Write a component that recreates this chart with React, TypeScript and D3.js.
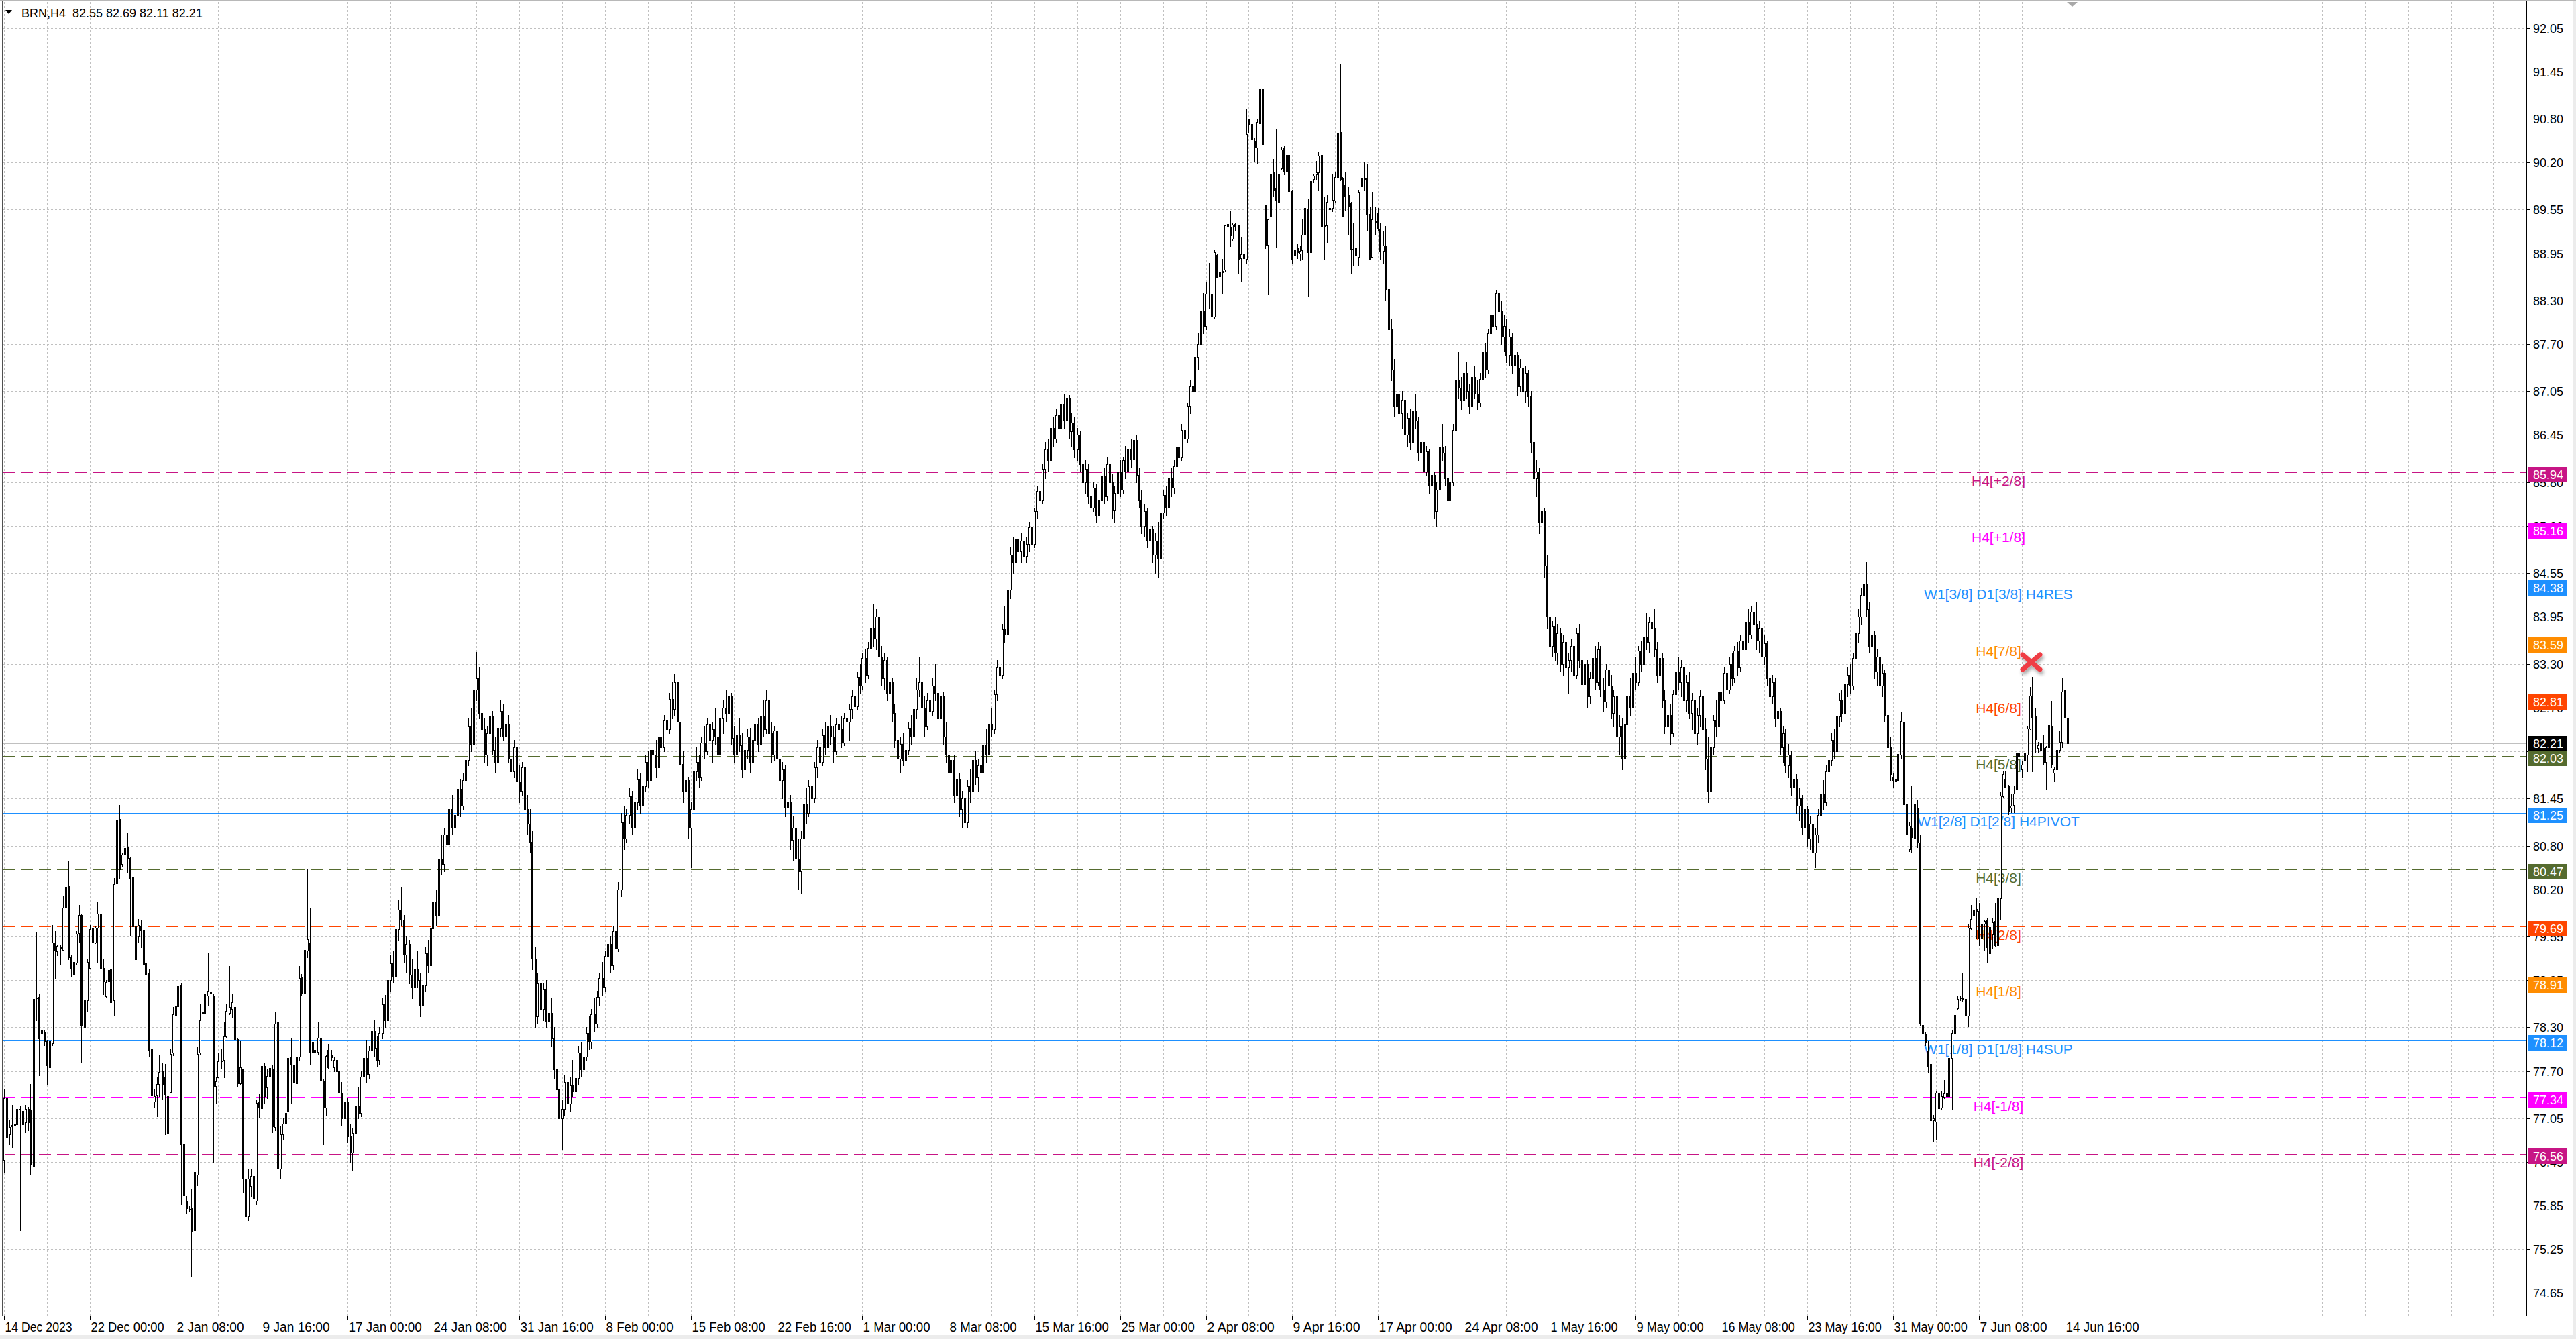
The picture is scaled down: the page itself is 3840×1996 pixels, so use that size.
import React from 'react';
import * as d3 from 'd3';

type Bar = [number, number, number, number]; // open, high, low, close

const headerText = 'BRN,H4  82.55 82.69 82.11 82.21';

const priceTicks = ['92.05','91.45','90.80','90.20','89.55','88.95','88.30','87.70','87.05','86.45','85.80','85.20','84.55','83.95','83.30','82.70','82.10','81.45','80.80','80.20','79.55','78.95','78.30','77.70','77.05','76.45','75.85','75.25','74.65'];

const dateLabels = ['14 Dec 2023','22 Dec 00:00','2 Jan 08:00','9 Jan 16:00','17 Jan 00:00','24 Jan 08:00','31 Jan 16:00','8 Feb 00:00','15 Feb 08:00','22 Feb 16:00','1 Mar 00:00','8 Mar 08:00','15 Mar 16:00','25 Mar 00:00','2 Apr 08:00','9 Apr 16:00','17 Apr 00:00','24 Apr 08:00','1 May 16:00','9 May 00:00','16 May 08:00','23 May 16:00','31 May 00:00','7 Jun 08:00','14 Jun 16:00'];
const barsPerLabel = 32;
const barsPerGrid = 16;

const levelPrices = [85.94, 85.16, 84.38, 83.59, 82.81, 82.03, 81.25, 80.47, 79.69, 78.91, 78.12, 77.34, 76.56];
const levelNames = ['H4[+2/8]','H4[+1/8]','W1[3/8] D1[3/8] H4RES','H4[7/8]','H4[6/8]','H4[5/8]','W1[2/8] D1[2/8] H4PIVOT','H4[3/8]','H4[2/8]','H4[1/8]','W1[1/8] D1[1/8] H4SUP','H4[-1/8]','H4[-2/8]'];
const levelColors = ['#C71585','#FF00FF','#1E90FF','#FF8C00','#FF4500','#556B2F','#1E90FF','#556B2F','#FF4500','#FF8C00','#1E90FF','#FF00FF','#C71585'];
const levelSolid = [false,false,true,false,false,false,true,false,false,false,true,false,false];

const lastPrice = 82.21;
const totalBars = 770;

// Bars 0..123 (mid Dec - mid Jan)
const seg0Start = 0;
const seg0: Bar[] = [
[76.48,77.45,76.30,77.33],[77.33,77.40,76.60,76.79],[76.83,77.02,76.69,76.93],[76.94,77.23,76.64,76.96],[76.97,77.02,76.64,76.96],
[76.97,77.40,76.69,77.18],[77.17,77.22,75.51,77.18],[77.15,77.26,76.64,76.97],[76.99,77.23,76.86,77.18],[77.18,77.21,76.88,76.99],
[77.16,77.52,76.27,76.41],[76.39,78.77,75.96,78.69],[78.70,79.61,78.40,78.71],[78.72,78.77,77.64,78.15],[78.21,78.30,78.15,78.26],
[78.24,78.27,78.06,78.11],[78.11,78.13,77.52,77.78],[77.75,78.15,77.73,78.11],[78.08,79.71,78.06,79.47],[79.46,79.62,78.98,79.37],
[79.35,79.43,79.29,79.42],[79.41,79.43,79.17,79.38],[79.37,80.11,79.36,79.95],[79.96,80.33,79.76,80.23],[80.24,80.58,79.24,79.26],
[79.26,79.29,79.00,79.11],[79.02,79.24,78.97,79.20],[79.19,79.62,79.17,79.59],[79.60,79.98,79.48,79.85],[79.85,79.86,77.82,78.32],
[78.30,79.34,78.11,78.67],[78.67,79.24,78.53,79.20],[79.12,79.71,79.11,79.65],[79.66,79.95,79.44,79.47],[79.47,79.69,79.46,79.67],
[79.67,80.02,79.19,79.86],[79.86,80.08,78.62,79.12],[79.12,79.24,78.76,78.93],[78.73,78.95,78.72,78.92],[78.93,79.13,78.77,79.09],
[79.10,79.13,78.37,78.65],[78.67,80.35,78.47,80.27],[80.28,81.42,80.24,81.16],[81.17,81.36,80.35,80.47],[80.55,80.70,80.51,80.68],
[80.68,80.79,80.63,80.77],[80.79,80.97,80.43,80.62],[80.63,80.65,79.56,80.35],[80.36,80.70,79.67,79.69],[79.69,79.71,79.20,79.24],
[79.55,79.79,79.47,79.71],[79.70,79.78,79.40,79.63],[79.63,79.79,78.78,79.17],[79.18,79.19,78.19,79.03],[79.05,79.10,77.91,77.99],
[78.00,78.01,77.07,77.36],[77.28,77.45,77.21,77.35],[77.36,77.62,77.08,77.52],[77.52,77.93,77.35,77.69],[77.70,77.82,77.31,77.52],
[77.62,77.80,76.83,77.38],[77.35,77.37,76.72,76.84],[77.41,78.01,77.40,77.94],[77.95,78.58,77.92,78.48],[78.47,78.63,78.32,78.59],
[78.59,79.00,78.32,78.87],[78.88,78.91,75.87,76.69],[76.69,76.74,75.60,75.99],[75.91,75.98,75.75,75.81],[75.80,75.84,75.77,75.79],
[75.81,76.08,74.88,75.50],[75.51,76.86,75.37,76.31],[76.27,78.03,76.13,77.94],[77.95,78.62,77.94,78.40],[78.50,78.58,78.22,78.52],
[78.50,78.91,78.29,78.76],[78.74,79.33,78.60,78.80],[78.77,79.07,78.20,78.78],[78.74,78.77,76.45,77.49],[77.49,77.61,77.26,77.56],
[77.61,77.95,77.61,77.83],[77.83,78.01,77.73,77.84],[77.85,78.38,77.61,78.18],[78.18,78.62,78.17,78.53],[78.50,79.14,78.48,78.58],
[78.55,78.77,78.44,78.65],[78.58,78.60,78.11,78.13],[78.14,78.15,77.49,77.53],[77.53,78.11,77.52,77.75],[77.72,77.73,76.03,76.23],
[76.22,76.24,75.20,75.70],[75.70,76.36,75.65,76.22],[76.12,76.36,75.98,76.26],[76.26,76.38,75.84,75.94],[75.91,77.30,75.87,77.26],
[77.28,77.38,77.07,77.20],[77.19,78.02,76.61,77.77],[77.77,77.82,77.26,77.35],[77.47,77.73,77.33,77.63],[77.63,77.80,77.40,77.74],
[77.72,77.78,76.86,76.94],[76.93,78.51,76.88,78.35],[78.37,78.39,76.27,76.36],[76.36,76.95,76.22,76.83],[76.83,77.05,76.75,76.98],
[76.98,77.25,76.69,77.12],[77.14,77.93,76.60,77.88],[77.89,78.15,77.26,77.80],[77.78,78.85,77.54,77.54],[77.53,77.94,77.01,77.89],
[77.90,79.14,77.85,78.98],[78.99,79.03,78.74,78.77],[78.77,79.40,78.62,79.37],[79.36,80.47,79.26,79.51],[79.46,79.95,77.80,77.96],
[77.96,78.20,77.95,78.10],[77.99,78.18,77.68,77.96],[77.96,78.37,77.94,78.16],[78.16,78.39,77.54,77.57],[77.57,77.59,76.69,77.21],
[77.20,77.93,77.09,77.91],[77.99,78.07,77.74,77.75],[77.92,77.99,77.85,77.89],[77.75,77.90,77.70,77.85]
];

// Bars 124..262 (mid Jan - mid Feb)
const seg1Start = 124;
const seg1: Bar[] = [
[77.85,77.98,77.62,77.70],[77.70,77.82,77.31,77.40],[77.40,77.55,76.95,77.05],[77.05,77.36,76.88,77.28],[77.28,77.33,76.72,76.80],
[76.80,76.98,76.45,76.58],[76.58,76.92,76.34,76.85],[76.85,77.30,76.78,77.22],[77.22,77.48,77.05,77.12],[77.12,77.70,77.08,77.62],
[77.62,77.95,77.45,77.88],[77.88,78.12,77.55,77.66],[77.66,78.05,77.60,77.98],[77.98,78.35,77.85,78.25],[78.25,78.40,77.90,78.02],
[78.02,78.18,77.76,77.85],[77.85,78.30,77.80,78.22],[78.22,78.70,78.15,78.62],[78.62,78.75,78.30,78.40],[78.40,79.05,78.35,78.95],
[78.95,79.30,78.80,79.18],[79.18,79.35,78.92,79.00],[79.00,79.72,78.95,79.65],[79.65,80.05,79.50,79.92],[79.92,80.23,79.70,79.78],
[79.78,79.85,79.20,79.30],[79.30,79.55,79.05,79.45],[79.45,79.50,78.90,79.02],[79.02,79.25,78.70,78.85],[78.85,79.20,78.75,79.10],
[79.10,79.35,78.85,78.95],[78.95,79.05,78.45,78.60],[78.60,78.95,78.50,78.88],[78.88,79.40,78.80,79.32],[79.32,79.50,79.05,79.15],
[79.15,79.75,79.10,79.66],[79.66,80.10,79.55,80.02],[80.02,80.20,79.70,79.85],[79.85,80.75,79.80,80.62],[80.62,80.95,80.40,80.55],
[80.55,81.05,80.45,80.95],[80.95,81.25,80.70,80.82],[80.82,81.40,80.75,81.30],[81.30,81.50,80.95,81.05],[81.05,81.35,80.85,81.22],
[81.22,81.65,81.15,81.58],[81.58,81.72,81.20,81.35],[81.35,81.80,81.30,81.70],[81.70,82.10,81.55,81.98],[81.98,82.55,81.90,82.45],
[82.45,82.70,82.10,82.20],[82.20,83.05,82.15,82.95],[82.95,83.46,82.80,83.10],[83.10,83.25,82.55,82.62],[82.62,82.80,82.30,82.40],
[82.40,82.55,81.95,82.05],[82.05,82.45,81.90,82.35],[82.35,82.70,82.20,82.58],[82.58,82.65,82.05,82.12],[82.12,82.30,81.80,81.95],
[81.95,82.50,81.88,82.42],[82.42,82.80,82.30,82.65],[82.65,82.75,82.25,82.30],[82.30,82.55,82.10,82.48],[82.48,82.60,81.95,82.00],
[82.00,82.20,81.70,81.82],[81.82,82.25,81.75,82.15],[82.15,82.30,81.60,81.68],[81.68,81.90,81.40,81.55],[81.55,81.95,81.50,81.88],
[81.88,81.95,81.20,81.30],[81.30,81.50,80.95,81.10],[81.10,81.30,80.70,80.85],[80.85,81.00,79.10,79.25],[79.25,79.40,78.30,78.45],
[78.45,79.05,78.35,78.90],[78.90,79.10,78.40,78.55],[78.55,78.90,78.40,78.82],[78.82,78.95,78.30,78.38],[78.38,78.62,78.10,78.50],
[78.50,78.70,78.05,78.15],[78.15,78.30,77.60,77.72],[77.72,77.95,77.35,77.45],[77.45,77.60,76.90,77.05],[77.05,77.30,76.62,77.18],
[77.18,77.65,77.10,77.55],[77.55,77.70,77.10,77.25],[77.25,77.62,77.15,77.50],[77.50,77.85,77.35,77.42],[77.42,77.70,77.05,77.60],
[77.60,78.05,77.52,77.95],[77.95,78.10,77.62,77.72],[77.72,78.00,77.55,77.90],[77.90,78.30,77.85,78.22],[78.22,78.45,78.00,78.10],
[78.10,78.55,78.02,78.48],[78.48,78.70,78.25,78.35],[78.35,78.80,78.30,78.72],[78.72,79.05,78.60,78.98],[78.98,79.20,78.75,78.85],
[78.85,79.35,78.80,79.28],[79.28,79.60,79.10,79.45],[79.45,79.55,79.05,79.15],[79.15,79.70,79.10,79.62],[79.62,79.75,79.30,79.38],
[79.38,80.30,79.35,80.20],[80.20,81.25,80.10,81.12],[81.12,81.35,80.75,80.90],[80.90,81.30,80.85,81.22],[81.22,81.60,81.10,81.48],
[81.48,81.55,80.95,81.05],[81.05,81.50,81.00,81.40],[81.40,81.85,81.30,81.72],[81.72,81.80,81.25,81.35],[81.35,81.70,81.20,81.62],
[81.62,82.05,81.55,81.95],[81.95,82.10,81.60,81.70],[81.70,82.20,81.65,82.12],[82.12,82.35,81.90,82.05],[82.05,82.25,81.75,81.88],
[81.88,82.40,81.80,82.30],[82.30,82.45,82.05,82.15],[82.15,82.60,82.10,82.52],[82.52,82.75,82.30,82.40],[82.40,82.90,82.35,82.82],
[82.82,83.05,82.55,82.68],[82.68,83.17,82.60,83.05],[83.05,83.12,82.45,82.50],[82.50,82.65,81.80,81.92],[81.92,82.10,81.40,81.55],
[81.55,81.80,81.20,81.70],[81.70,81.75,80.90,81.05],[81.05,81.40,80.50,81.30],[81.30,81.90,81.25,81.82],[81.82,82.15,81.70,81.95],
[81.95,82.05,81.60,81.75],[81.75,82.30,81.70,82.22],[82.22,82.45,82.00,82.10],[82.10,82.55,82.05,82.48]
];

// Bars 263..447 (mid Feb - early Apr)
const seg2Start = 263;
const seg2: Bar[] = [
[82.48,82.60,82.15,82.25],[82.25,82.50,81.95,82.40],[82.40,82.70,82.20,82.30],[82.30,82.45,81.90,82.05],[82.05,82.60,82.00,82.55],
[82.55,82.80,82.35,82.70],[82.70,82.95,82.50,82.62],[82.62,82.92,82.40,82.85],[82.85,82.90,82.20,82.28],[82.28,82.45,81.95,82.05],
[82.05,82.40,81.90,82.32],[82.32,82.55,82.10,82.18],[82.18,82.35,81.75,81.85],[81.85,82.20,81.70,82.12],[82.12,82.40,82.00,82.30],
[82.30,82.42,81.80,81.95],[81.95,82.30,81.85,82.25],[82.25,82.60,82.15,82.48],[82.48,82.55,82.10,82.20],[82.20,82.65,82.12,82.58],
[82.58,82.80,82.30,82.40],[82.40,82.95,82.35,82.80],[82.80,82.88,82.25,82.35],[82.35,82.50,81.95,82.05],[82.05,82.45,81.98,82.38],
[82.38,82.52,81.90,82.00],[82.00,82.15,81.55,81.70],[81.70,81.95,81.45,81.85],[81.85,81.90,81.20,81.32],[81.32,81.55,80.95,81.40],
[81.40,81.50,80.75,80.88],[80.88,81.20,80.60,81.05],[81.05,81.15,80.50,80.62],[80.62,80.90,80.20,80.45],[80.45,81.00,80.15,80.90],
[80.90,81.45,80.85,81.38],[81.38,81.60,81.10,81.25],[81.25,81.70,81.20,81.62],[81.62,81.75,81.30,81.45],[81.45,81.95,81.40,81.88],
[81.88,82.25,81.75,82.15],[82.15,82.30,81.85,81.95],[81.95,82.40,81.90,82.32],[82.32,82.50,82.05,82.15],[82.15,82.55,82.10,82.45],
[82.45,82.60,82.20,82.30],[82.30,82.45,81.95,82.10],[82.10,82.55,82.05,82.48],[82.48,82.70,82.30,82.40],[82.40,82.58,82.15,82.22],
[82.22,82.62,82.18,82.55],[82.55,82.80,82.40,82.50],[82.50,82.75,82.25,82.68],[82.68,82.95,82.55,82.85],[82.85,83.10,82.60,82.72],
[82.72,83.20,82.68,83.12],[83.12,83.30,82.90,83.00],[83.00,83.45,82.95,83.38],[83.38,83.50,83.05,83.15],[83.15,83.60,83.10,83.52],
[83.52,83.90,83.40,83.80],[83.80,84.12,83.55,83.65],[83.65,84.05,83.50,83.95],[83.95,84.00,83.30,83.40],[83.40,83.55,83.00,83.10],
[83.10,83.45,82.95,83.35],[83.35,83.40,82.80,82.90],[82.90,83.20,82.70,83.05],[83.05,83.10,82.50,82.62],[82.62,82.75,82.15,82.25],
[82.25,82.40,81.85,82.00],[82.00,82.30,81.80,82.20],[82.20,82.35,81.90,81.98],[81.98,82.20,81.75,82.12],[82.12,82.50,82.05,82.42],
[82.42,82.60,82.20,82.30],[82.30,82.75,82.25,82.68],[82.68,83.10,82.55,82.95],[82.95,83.40,82.85,83.05],[83.05,83.15,82.60,82.70],
[82.70,82.85,82.30,82.45],[82.45,82.90,82.40,82.80],[82.80,83.05,82.55,82.65],[82.65,83.10,82.60,83.00],[83.00,83.30,82.80,82.90],
[82.90,83.00,82.45,82.55],[82.55,82.95,82.50,82.85],[82.85,82.92,82.20,82.30],[82.30,82.50,81.95,82.05],[82.05,82.25,81.70,81.80],
[81.80,82.10,81.65,81.98],[81.98,82.05,81.40,81.50],[81.50,81.85,81.35,81.72],[81.72,81.80,81.20,81.30],[81.30,81.55,81.05,81.45],
[81.45,81.60,80.90,81.12],[81.12,81.70,81.05,81.62],[81.62,81.85,81.40,81.55],[81.55,82.05,81.50,81.98],[81.98,82.10,81.65,81.75],
[81.75,82.00,81.55,81.90],[81.90,82.20,81.70,81.80],[81.80,82.25,81.75,82.18],[82.18,82.40,81.95,82.05],[82.05,82.55,82.00,82.48],
[82.48,82.70,82.30,82.40],[82.40,82.95,82.35,82.88],[82.88,83.35,82.80,83.25],[83.25,83.55,83.05,83.15],[83.15,83.85,83.10,83.78],
[83.78,84.10,83.60,83.70],[83.70,84.40,83.65,84.32],[84.32,84.90,84.20,84.80],[84.80,85.05,84.55,84.70],[84.70,85.12,84.60,85.02],
[85.02,85.20,84.75,84.85],[84.85,85.10,84.70,85.00],[85.00,85.15,84.65,84.78],[84.78,85.05,84.70,84.95],[84.95,85.25,84.85,85.18],
[85.18,85.30,84.85,84.95],[84.95,85.45,84.90,85.40],[85.40,85.75,85.30,85.68],[85.68,85.85,85.45,85.55],[85.55,86.05,85.50,85.98],
[85.98,86.35,85.85,86.25],[86.25,86.40,85.95,86.10],[86.10,86.62,86.05,86.55],[86.55,86.70,86.30,86.40],[86.40,86.80,86.35,86.72],
[86.72,86.85,86.45,86.55],[86.55,86.95,86.50,86.88],[86.88,87.02,86.55,86.65],[86.65,87.05,86.60,86.95],[86.95,87.00,86.40,86.50],
[86.50,86.75,86.30,86.62],[86.62,86.70,86.15,86.25],[86.25,86.55,86.10,86.45],[86.45,86.50,85.95,86.05],[86.05,86.20,85.70,85.80],
[85.80,86.10,85.65,85.98],[85.98,86.05,85.50,85.60],[85.60,85.85,85.35,85.45],[85.45,85.80,85.40,85.72],[85.72,85.78,85.25,85.35],
[85.35,85.65,85.20,85.55],[85.55,85.95,85.45,85.88],[85.88,86.00,85.50,85.60],[85.60,86.15,85.55,86.05],[86.05,86.20,85.70,85.80],
[85.80,85.92,85.30,85.42],[85.42,85.75,85.25,85.65],[85.65,86.05,85.60,85.95],[85.95,86.10,85.60,85.70],[85.70,86.15,85.65,86.10],
[86.10,86.30,85.85,85.95],[85.95,86.35,85.90,86.25],[86.25,86.40,86.00,86.12],[86.12,86.45,86.05,86.38],[86.38,86.45,85.80,85.90],
[85.90,86.00,85.45,85.55],[85.55,85.70,85.10,85.20],[85.20,85.50,85.05,85.40],[85.40,85.45,84.90,85.00],[85.00,85.30,84.80,85.15],
[85.15,85.20,84.70,84.80],[84.80,85.10,84.55,85.00],[85.00,85.25,84.50,84.75],[84.75,85.45,84.70,85.38],[85.38,85.70,85.30,85.62],
[85.62,85.75,85.35,85.45],[85.45,85.90,85.40,85.85],[85.85,86.00,85.60,85.72],[85.72,86.10,85.65,86.02],[86.02,86.35,85.95,86.28],
[86.28,86.45,86.05,86.15],[86.15,86.60,86.10,86.52],[86.52,86.70,86.30,86.40],[86.40,86.90,86.35,86.85],[86.85,87.20,86.75,87.12],
[87.12,87.35,86.95,87.05],[87.05,87.60,87.00,87.52],[87.52,87.85,87.35,87.70],[87.70,88.25,87.60,88.15],[88.15,88.40,87.85,87.95]
];

// Bars 448..516 (April top)
const seg4Start = 448;
const seg4: Bar[] = [
[87.95,88.56,87.90,88.39],[88.38,88.82,88.19,88.38],[88.39,88.68,88.00,88.09],[88.08,89.00,88.06,88.96],[88.93,88.94,88.61,88.62],
[88.63,88.88,88.60,88.69],[88.69,88.87,88.40,88.71],[88.72,89.34,88.71,89.33],[89.35,89.69,89.05,89.32],[89.31,89.53,89.05,89.19],
[89.15,89.36,89.13,89.34],[89.35,89.36,89.26,89.31],[89.33,89.34,88.68,88.87],[88.88,89.17,88.56,88.94],[88.94,89.16,88.44,88.88],
[88.87,90.94,88.82,90.59],[90.79,90.80,90.62,90.72],[90.73,90.74,90.45,90.52],[90.50,90.53,90.22,90.40],[90.40,90.79,90.19,90.75],
[90.74,91.36,90.29,91.21],[91.22,91.50,90.44,90.45],[89.62,89.62,89.02,89.07],[89.07,89.42,88.38,89.42],[89.45,90.10,89.09,90.04],
[90.06,90.25,89.73,89.82],[89.85,90.66,89.04,89.67],[89.66,90.04,89.49,90.04],[90.12,90.41,90.11,90.38],[90.40,90.43,90.03,90.08],
[90.07,90.44,89.89,90.30],[90.30,90.44,89.77,89.80],[89.81,89.82,88.82,88.87],[88.92,89.09,88.85,89.00],[89.03,89.08,88.88,88.96],
[88.95,89.06,88.85,88.98],[88.99,89.42,88.86,89.20],[89.20,89.60,89.17,89.57],[89.56,89.70,88.36,88.96],[88.96,90.16,88.65,89.94],
[89.97,90.04,89.92,90.02],[90.03,90.22,89.96,90.06],[90.06,90.34,89.82,90.29],[90.30,90.36,89.30,89.31],[89.34,89.73,88.87,89.31],
[89.33,89.75,89.10,89.66],[89.55,89.66,89.53,89.57],[89.57,90.04,89.53,89.68],[89.67,90.06,89.66,90.00],[89.99,90.73,89.98,90.61],
[90.62,91.55,89.95,89.96],[89.98,90.00,89.45,89.46],[89.89,90.07,89.54,89.73],[89.75,89.86,89.20,89.60],[89.64,89.66,88.67,89.00],
[89.00,89.37,88.79,89.01],[89.02,89.26,88.19,88.93],[88.90,89.82,88.79,89.79],[89.87,90.03,89.86,89.98],[89.99,90.20,89.82,89.97],
[89.99,90.17,89.27,89.49],[89.49,89.59,88.86,88.86],[88.90,89.79,88.89,89.42],[89.40,89.59,89.20,89.37],[89.50,89.57,89.27,89.30],
[89.29,89.36,88.86,88.98],[88.98,89.25,88.82,89.06],[89.06,89.32,88.31,88.45],[88.46,88.88,87.85,87.90]
];

// Bars 517..703 (late April - end of May)
const seg5Start = 517;
const seg5: Bar[] = [
[87.90,88.05,87.20,87.35],[87.35,87.50,86.70,86.85],[86.85,87.10,86.60,87.02],[87.02,87.15,86.65,86.75],[86.75,87.05,86.55,86.92],
[86.92,86.98,86.35,86.45],[86.45,86.75,86.30,86.68],[86.68,86.80,86.25,86.35],[86.35,86.85,86.30,86.78],[86.78,87.02,86.55,86.65],
[86.65,86.70,86.10,86.20],[86.20,86.45,86.00,86.35],[86.35,86.40,85.85,85.95],[85.95,86.30,85.90,86.22],[86.22,86.25,85.65,85.75],
[85.75,86.05,85.50,85.90],[85.90,85.95,85.30,85.40],[85.40,85.80,85.20,85.70],[85.70,86.35,85.65,86.28],[86.28,86.60,86.10,86.20],
[86.20,86.30,85.75,85.85],[85.85,86.00,85.40,85.55],[85.55,85.90,85.45,85.80],[85.80,86.60,85.75,86.52],[86.52,87.30,86.45,87.20],
[87.20,87.60,86.95,87.10],[87.10,87.25,86.80,86.92],[86.92,87.40,86.85,87.30],[87.30,87.45,86.95,87.05],[87.05,87.15,86.75,86.85],
[86.85,87.35,86.80,87.25],[87.25,87.40,86.95,87.02],[87.02,87.20,86.80,86.90],[86.90,87.30,86.85,87.22],[87.22,87.70,87.15,87.60],
[87.60,87.72,87.25,87.35],[87.35,87.90,87.30,87.85],[87.85,88.20,87.70,88.10],[88.10,88.35,87.85,87.95],[87.95,88.45,87.90,88.40],
[88.40,88.55,88.05,88.15],[88.15,88.30,87.70,87.80],[87.80,88.10,87.60,87.95],[87.95,88.05,87.45,87.55],[87.55,87.90,87.40,87.80],
[87.80,87.85,87.30,87.40],[87.40,87.65,87.20,87.55],[87.55,87.60,87.00,87.12],[87.12,87.50,87.05,87.38],[87.38,87.45,86.95,87.05],
[87.05,87.40,86.90,87.30],[87.30,87.35,86.85,86.98],[86.98,87.05,86.20,86.35],[86.35,86.55,85.70,85.85],[85.85,86.10,85.60,85.95],
[85.95,86.00,85.10,85.25],[85.25,85.55,85.00,85.40],[85.40,85.45,84.50,84.65],[84.65,84.80,83.80,83.95],[83.95,84.20,83.40,83.55],
[83.55,83.90,83.40,83.82],[83.82,83.95,83.35,83.45],[83.45,83.85,83.30,83.72],[83.72,83.80,83.20,83.30],[83.30,83.70,83.15,83.60],
[83.60,83.75,83.10,83.25],[83.25,83.45,82.90,83.35],[83.35,83.65,83.20,83.55],[83.55,83.60,83.05,83.15],[83.15,83.80,83.10,83.72],
[83.72,83.85,83.25,83.35],[83.35,83.50,82.90,83.02],[83.02,83.40,82.85,83.30],[83.30,83.35,82.70,82.85],[82.85,83.20,82.75,83.10],
[83.10,83.45,83.00,83.38],[83.38,83.55,82.95,83.05],[83.05,83.60,83.00,83.50],[83.50,83.55,82.85,82.95],[82.95,83.10,82.65,82.78],
[82.78,83.30,82.70,83.22],[83.22,83.40,82.90,83.00],[83.00,83.15,82.55,82.62],[82.62,82.95,82.45,82.85],[82.85,82.90,82.20,82.30],
[82.30,82.60,82.05,82.45],[82.45,82.55,81.85,82.00],[82.00,82.55,81.70,82.48],[82.48,82.95,82.40,82.85],[82.85,83.10,82.60,82.70],
[82.70,83.25,82.65,83.18],[83.18,83.40,82.95,83.05],[83.05,83.55,83.00,83.48],[83.48,83.62,83.20,83.30],[83.30,83.75,83.25,83.68],
[83.68,84.00,83.50,83.60],[83.60,83.95,83.45,83.88],[83.88,84.20,83.70,83.80],[83.80,84.05,83.40,83.50],[83.50,83.60,83.05,83.15],
[83.15,83.50,83.00,83.38],[83.38,83.45,82.70,82.80],[82.80,82.95,82.35,82.45],[82.45,82.70,82.05,82.60],[82.60,82.75,82.20,82.35],
[82.35,82.95,82.30,82.88],[82.88,83.30,82.75,83.20],[83.20,83.40,82.95,83.05],[83.05,83.35,82.85,83.25],[83.25,83.30,82.70,82.80],
[82.80,83.15,82.65,83.05],[83.05,83.20,82.55,82.62],[82.62,82.90,82.40,82.80],[82.80,82.85,82.25,82.35],[82.35,82.70,82.20,82.60],
[82.60,82.95,82.45,82.85],[82.85,82.92,82.30,82.40],[82.40,82.55,81.85,82.00],[82.00,82.30,81.40,81.55],[81.55,82.25,80.90,82.15],
[82.15,82.60,82.05,82.52],[82.52,82.80,82.30,82.45],[82.45,83.00,82.40,82.92],[82.92,83.15,82.70,82.80],[82.80,83.25,82.75,83.18],
[83.18,83.35,82.85,82.95],[82.95,83.40,82.90,83.30],[83.30,83.45,83.00,83.10],[83.10,83.55,83.05,83.48],[83.48,83.60,83.15,83.25],
[83.25,83.70,83.20,83.62],[83.62,83.85,83.40,83.50],[83.50,83.95,83.45,83.88],[83.88,84.05,83.60,83.70],[83.70,84.10,83.65,84.02],
[84.02,84.20,83.75,83.85],[83.85,84.15,83.50,83.62],[83.62,83.90,83.45,83.80],[83.80,83.85,83.30,83.40],[83.40,83.70,83.30,83.58],
[83.58,83.62,83.00,83.10],[83.10,83.30,82.70,82.85],[82.85,83.15,82.75,83.05],[83.05,83.10,82.45,82.55],[82.55,82.80,82.30,82.65],
[82.65,82.70,82.05,82.15],[82.15,82.45,81.95,82.35],[82.35,82.40,81.80,81.90],[81.90,82.20,81.75,82.05],[82.05,82.10,81.50,81.60],
[81.60,81.85,81.40,81.72],[81.72,81.78,81.25,81.35],[81.35,81.60,81.15,81.45],[81.45,81.50,80.95,81.05],[81.05,81.40,80.95,81.30],
[81.30,81.35,80.80,80.90],[80.90,81.20,80.75,81.10],[81.10,81.15,80.60,80.70],[80.70,81.05,80.50,80.95],[80.95,81.30,80.85,81.22],
[81.22,81.60,81.10,81.52],[81.52,81.70,81.30,81.40],[81.40,81.90,81.35,81.82],[81.82,82.10,81.60,81.98],[81.98,82.35,81.90,82.25],
[82.25,82.40,82.00,82.10],[82.10,82.65,82.05,82.58],[82.58,82.90,82.45,82.80],[82.80,82.95,82.50,82.62],[82.62,83.10,82.55,83.02],
[83.02,83.25,82.85,83.15],[83.15,83.30,82.90,83.00],[83.00,83.45,82.95,83.38],[83.38,83.80,83.30,83.72],[83.72,84.05,83.60,83.95],
[83.95,84.35,83.85,84.25],[84.25,84.55,84.05,84.40],[84.40,84.70,83.95,84.05],[84.05,84.15,83.45,83.55],[83.55,83.85,83.30,83.70],
[83.70,83.75,83.10,83.20],[83.20,83.50,83.00,83.40],[83.40,83.45,82.90,83.00],[83.00,83.30,82.85,83.18],[83.18,83.22,82.50,82.60],
[82.60,82.75,82.05,82.15],[82.15,82.30,81.70,81.78]
];

// Bars 704..769 (end of May - mid June)
const seg7Start = 704;
const seg7: Bar[] = [
[81.75,81.80,81.60,81.70],[81.69,81.76,81.55,81.72],[81.70,82.10,81.60,82.06],[82.05,82.64,82.00,82.51],[82.50,82.52,81.30,81.37],
[81.37,81.40,80.70,80.95],[80.75,81.12,80.72,81.07],[81.05,81.63,80.70,80.92],[80.90,81.45,80.64,81.38],[81.32,81.42,80.78,80.84],
[80.84,80.95,78.33,78.36],[78.33,78.44,78.13,78.21],[78.21,78.23,78.06,78.09],[77.98,78.11,77.68,77.76],[77.80,77.81,77.00,77.02],
[77.02,77.10,76.74,77.05],[77.00,77.43,76.75,77.40],[77.40,77.85,77.18,77.19],[77.20,77.42,77.18,77.35],[77.34,77.58,77.33,77.39],
[77.40,77.78,77.33,77.35],[77.35,77.91,77.12,77.88],[77.88,78.26,77.17,78.22],[78.22,78.49,78.13,78.47],[78.56,78.73,78.54,78.69],
[78.70,78.74,78.67,78.71],[78.71,79.04,78.66,78.69],[78.69,79.14,78.31,78.47],[78.46,79.72,78.31,79.67],[79.66,79.98,79.65,79.79],
[79.84,79.98,79.83,79.92],[79.93,80.08,79.52,79.90],[79.90,80.01,79.43,79.52],[79.52,80.25,79.45,79.72],[79.73,79.78,79.37,79.76],
[79.77,79.81,79.20,79.40],[79.68,79.72,79.28,79.32],[79.58,79.80,79.38,79.74],[79.76,80.01,79.42,79.43],[79.43,80.10,79.37,80.08],
[80.08,81.54,79.78,81.49],[81.48,81.82,81.46,81.78],[81.72,81.82,81.60,81.61],[81.62,81.64,81.23,81.27],[81.32,81.51,81.26,81.35],
[81.36,81.63,81.26,81.52],[81.58,82.18,81.57,82.08],[82.07,82.10,81.85,82.02],[81.85,81.97,81.74,81.91],[81.97,82.17,81.82,82.08],
[82.05,82.45,81.82,82.41],[82.41,82.98,82.40,82.86],[82.86,83.12,81.82,82.57],[82.59,82.70,82.09,82.26],[82.14,82.23,82.09,82.18],
[82.21,82.23,81.91,82.12],[82.14,82.33,81.91,81.94],[81.95,82.17,81.58,82.15],[82.15,82.78,81.95,82.47],[82.45,82.79,81.88,81.91],
[81.80,81.88,81.69,81.85],[81.85,82.38,81.84,82.12],[82.12,82.37,82.09,82.23],[82.23,83.10,82.15,82.92],[82.95,83.10,82.08,82.57],
[82.55,82.69,82.11,82.21]
];

const segments: [number, Bar[]][] = [
  [seg0Start, seg0], [seg1Start, seg1], [seg2Start, seg2], [seg4Start, seg4], [seg5Start, seg5], [seg7Start, seg7]
];

const FONT = "'Liberation Sans', Arial, sans-serif";

export default function App() {
  const plotL = 4, plotT = 3, plotR = 3766, plotB = 1961;
  const x = d3.scaleLinear().domain([0, totalBars - 1]).range([5.5, 5.5 + 4 * (totalBars - 1)]);
  const y = d3.scaleLinear().domain([74.65, 92.05]).range([1927, 41.6]);
  const py = (p: number) => Math.round(y(p)) + 0.5;

  const bars = segments.flatMap(([s, arr]) => arr.map((b, k) => ({ i: s + k, o: b[0], h: b[1], l: b[2], c: b[3] })));

  const vgrid: number[] = [];
  for (let k = 0; ; k++) {
    const gx = Math.round(x(k * barsPerGrid)) + 0.5;
    if (gx >= plotR) break;
    vgrid.push(gx);
  }

  const xMark = { cx: 3028, cy: 987 };

  return (
    <svg width={3840} height={1996} style={{ position: 'absolute', left: 0, top: 0, background: '#ffffff' }} fontFamily={FONT}>
      <defs>
        <filter id="xshadow" x="-50%" y="-50%" width="200%" height="200%">
          <feDropShadow dx="2" dy="4" stdDeviation="2.5" floodColor="#000" floodOpacity="0.35" />
        </filter>
      </defs>
      <rect x={0} y={0} width={3840} height={1996} fill="#ffffff" />
      <rect x={0} y={1990} width={3840} height={6} fill="#ececec" />
      <rect x={3836} y={0} width={4} height={1996} fill="#ececec" />

      {/* grid */}
      <g stroke="#c0c0c0" strokeWidth={1} strokeDasharray="3,3" shapeRendering="crispEdges">
        {priceTicks.map((t) => (
          <line key={'h' + t} x1={plotL} x2={plotR} y1={py(+t)} y2={py(+t)} />
        ))}
        {vgrid.map((gx) => (
          <line key={'v' + gx} x1={gx} x2={gx} y1={plotT} y2={plotB} />
        ))}
      </g>

      {/* level lines */}
      <g shapeRendering="crispEdges">
        {levelPrices.map((p, k) => (
          <line key={'lv' + k} x1={plotL} x2={plotR} y1={py(p)} y2={py(p)} stroke={levelColors[k]} strokeWidth={1}
            strokeDasharray={levelSolid[k] ? undefined : '18,9'} />
        ))}
        <line x1={plotL} x2={plotR} y1={py(lastPrice)} y2={py(lastPrice)} stroke="#c0c0c0" strokeWidth={1} />
      </g>

      {/* level texts */}
      <g fontSize={21} textAnchor="middle">
        {levelPrices.map((p, k) => (
          <text key={'lt' + k} x={2979} y={py(p) + 19.5} fill={levelColors[k]}>{levelNames[k]}</text>
        ))}
      </g>

      {/* candles */}
      <g shapeRendering="crispEdges">
        {bars.map((b) => {
          const cx = Math.round(x(b.i));
          const top = Math.round(y(Math.max(b.o, b.c)));
          const bot = Math.round(y(Math.min(b.o, b.c)));
          const bull = b.c > b.o;
          return (
            <g key={b.i}>
              <line x1={cx + 0.5} x2={cx + 0.5} y1={Math.round(y(b.h))} y2={Math.round(y(b.l)) + 1} stroke="#000" strokeWidth={1} />
              <rect x={cx - 0.5} y={top + 0.5} width={2} height={Math.max(0, bot - top)} fill={bull ? '#ffffff' : '#000000'} stroke="#000" strokeWidth={1} />
            </g>
          );
        })}
      </g>

      {/* red cross */}
      <g filter="url(#xshadow)" stroke="#ef3d45" strokeWidth={7} strokeLinecap="round">
        <line x1={xMark.cx - 13} y1={xMark.cy + 11} x2={xMark.cx + 13} y2={xMark.cy - 11} />
        <line x1={xMark.cx - 13} y1={xMark.cy - 11} x2={xMark.cx + 13} y2={xMark.cy + 11} />
      </g>

      {/* frame */}
      <g shapeRendering="crispEdges">
        <line x1={0} x2={3840} y1={1} y2={1} stroke="#b8b8b8" strokeWidth={2} />
        <line x1={3.5} x2={3.5} y1={2} y2={plotB} stroke="#505050" strokeWidth={1} />
        <line x1={plotR + 0.5} x2={plotR + 0.5} y1={2} y2={plotB + 1} stroke="#000" strokeWidth={1} />
        <line x1={plotL} x2={plotR + 1} y1={plotB + 0.5} y2={plotB + 0.5} stroke="#000" strokeWidth={1} />
      </g>

      {/* chart shift marker */}
      <path d="M3081,3 L3097,3 L3089,10 Z" fill="#a8a8a8" />

      {/* price axis */}
      <g fontSize={18} fill="#000">
        {priceTicks.map((t) => (
          <g key={'pt' + t}>
            <line x1={plotR + 1} x2={plotR + 5} y1={py(+t)} y2={py(+t)} stroke="#000" shapeRendering="crispEdges" />
            <text x={3776} y={py(+t) + 6.5}>{t}</text>
          </g>
        ))}
      </g>

      {/* level price boxes */}
      <g fontSize={18}>
        {levelPrices.map((p, k) => (
          <g key={'lb' + k}>
            <rect x={3768} y={py(p) + 3 - 11.5} width={59} height={23} fill={levelColors[k]} />
            <text x={3776} y={py(p) + 3 + 6.5} fill="#fff">{p.toFixed(2)}</text>
          </g>
        ))}
        <rect x={3768} y={py(lastPrice) - 11.5} width={59} height={23} fill="#000" />
        <text x={3776} y={py(lastPrice) + 6.5} fill="#fff">{lastPrice.toFixed(2)}</text>
      </g>

      {/* time axis */}
      <g fontSize={20} fill="#000">
        {dateLabels.map((d, k) => {
          const tx = Math.round(x(k * barsPerLabel)) + 0.5;
          return (
            <g key={'d' + k}>
              <line x1={tx} x2={tx} y1={plotB} y2={plotB + 6} stroke="#000" shapeRendering="crispEdges" />
              <text x={tx + 1} y={1985} textLength={d.length * 9.1} lengthAdjust="spacingAndGlyphs">{d}</text>
            </g>
          );
        })}
      </g>

      {/* header */}
      <path d="M8,15 L18,15 L13,21 Z" fill="#000" />
      <text x={32} y={26} fontSize={18} fill="#000" style={{ whiteSpace: 'pre' }}>{headerText}</text>
    </svg>
  );
}
